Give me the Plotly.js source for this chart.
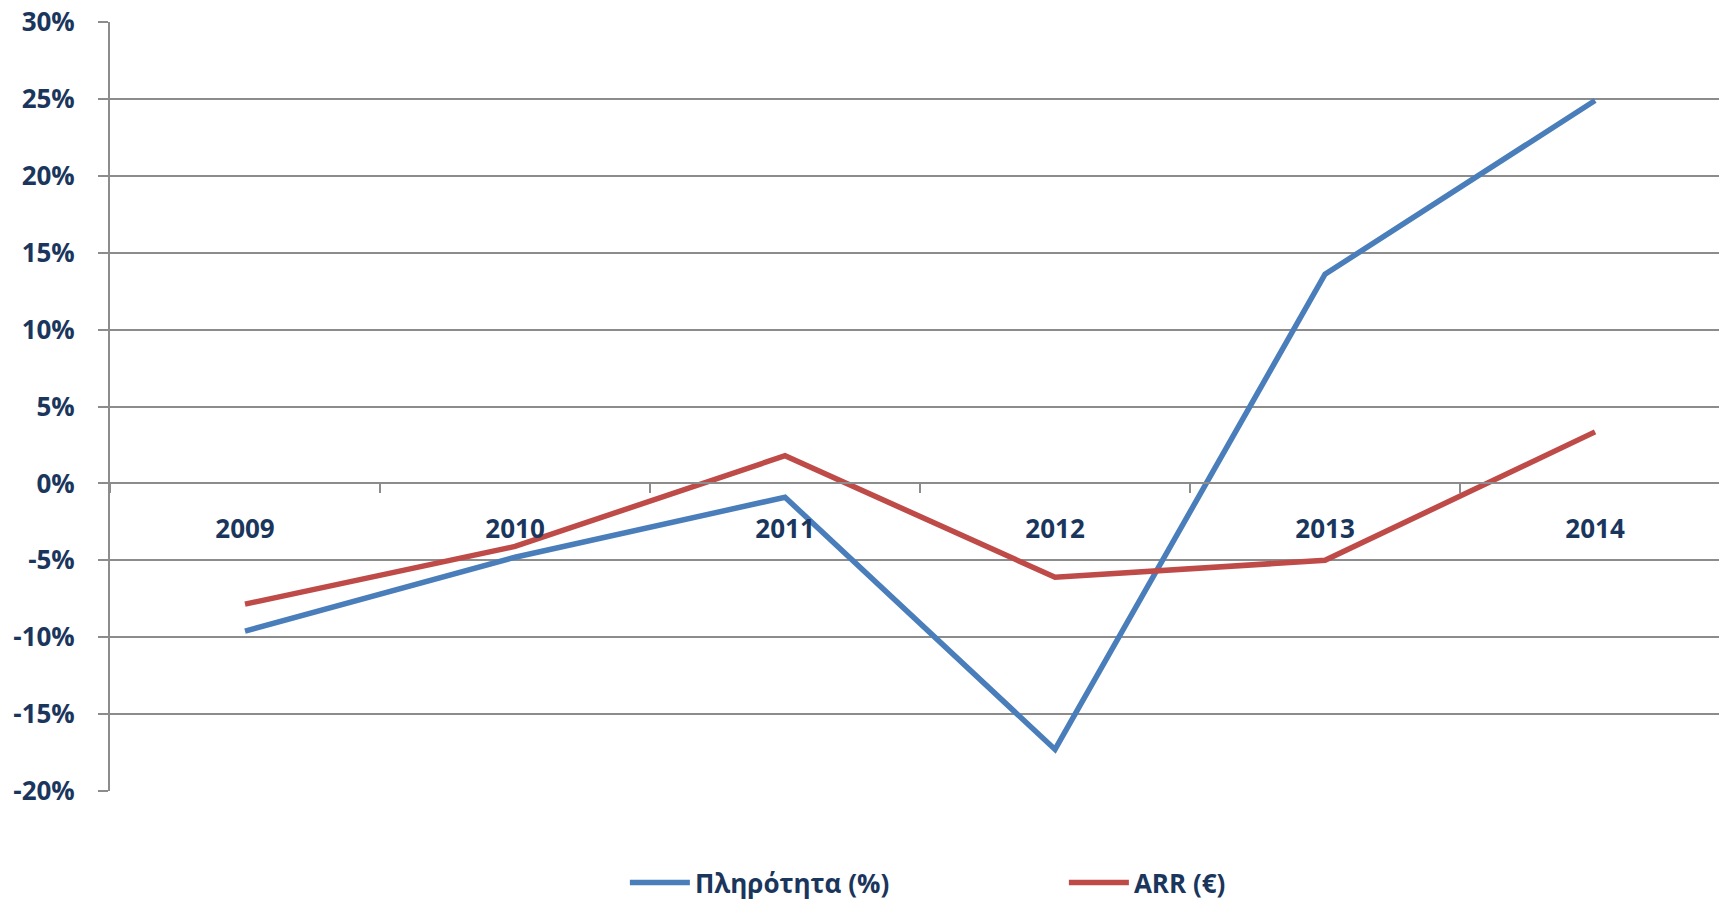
<!DOCTYPE html>
<html>
<head>
<meta charset="utf-8">
<script src="https://cdn.plot.ly/plotly-3.0.1.min.js"></script>
<style>html,body{margin:0;padding:0;background:#fff;}#chart{width:1719px;height:906px;}</style>
</head>
<body>
<div id="chart"></div>
<script>
const years = ['2009', '2010', '2011', '2012', '2013', '2014'];
const occupancy = [-9.6, -4.8, -0.9, -17.3, 13.6, 24.9];
const arr = [-7.85, -4.1, 1.8, -6.1, -5.0, 3.35];
const seriesNames = ['Πληρότητα (%)', 'ARR (€)'];
const yTickVals = [-20, -15, -10, -5, 0, 5, 10, 15, 20, 25, 30];
const yTickText = ['-20%', '-15%', '-10%', '-5%', '0%', '5%', '10%', '15%', '20%', '25%', '30%'];

const navy = '#1b365d';
const grid = '#8c8c8c';
const fontFam = '"Open Sans", "Noto Sans", sans-serif';

const traces = [
  {x: years, y: occupancy, name: seriesNames[0], type: 'scatter', mode: 'lines',
   line: {color: '#4a7ebb', width: 5.5}},
  {x: years, y: arr, name: seriesNames[1], type: 'scatter', mode: 'lines',
   line: {color: '#be4b48', width: 5.5}}
];

const layout = {
  width: 1719, height: 906,
  margin: {l: 110, r: 0, t: 22, b: 112},
  paper_bgcolor: '#fff', plot_bgcolor: '#fff',
  font: {family: fontFam, color: navy, size: 26, weight: 700},
  showlegend: true,
  legend: {orientation: 'h', x: 0.32, xanchor: 'left', y: -0.119, yanchor: 'middle',
           font: {family: fontFam, size: 26, color: navy, weight: 700},
           entrywidth: 364, entrywidthmode: 'pixels', itemwidth: 60},
  xaxis: {
    type: 'category', range: [-0.5, 5.459], anchor: 'free', position: 0.4,
    showline: true, linecolor: grid, linewidth: 2,
    ticks: 'outside', tickson: 'boundaries', ticklen: 9, tickwidth: 2, tickcolor: grid,
    ticklabelstandoff: 22,
    showgrid: false, zeroline: false, fixedrange: true,
    tickfont: {family: fontFam, size: 26, color: navy, weight: 700}
  },
  yaxis: {
    range: [-20, 30], tickmode: 'array', tickvals: yTickVals, ticktext: yTickText,
    showline: true, linecolor: grid, linewidth: 2,
    ticks: 'outside', ticklen: 10, tickwidth: 2, tickcolor: grid,
    ticklabelstandoff: 18,
    showgrid: true, gridcolor: grid, gridwidth: 2, zeroline: false,
    tickfont: {family: fontFam, size: 26, color: navy, weight: 700}
  }
};

Plotly.newPlot('chart', traces, layout, {displayModeBar: false, staticPlot: true});
</script>
</body>
</html>
